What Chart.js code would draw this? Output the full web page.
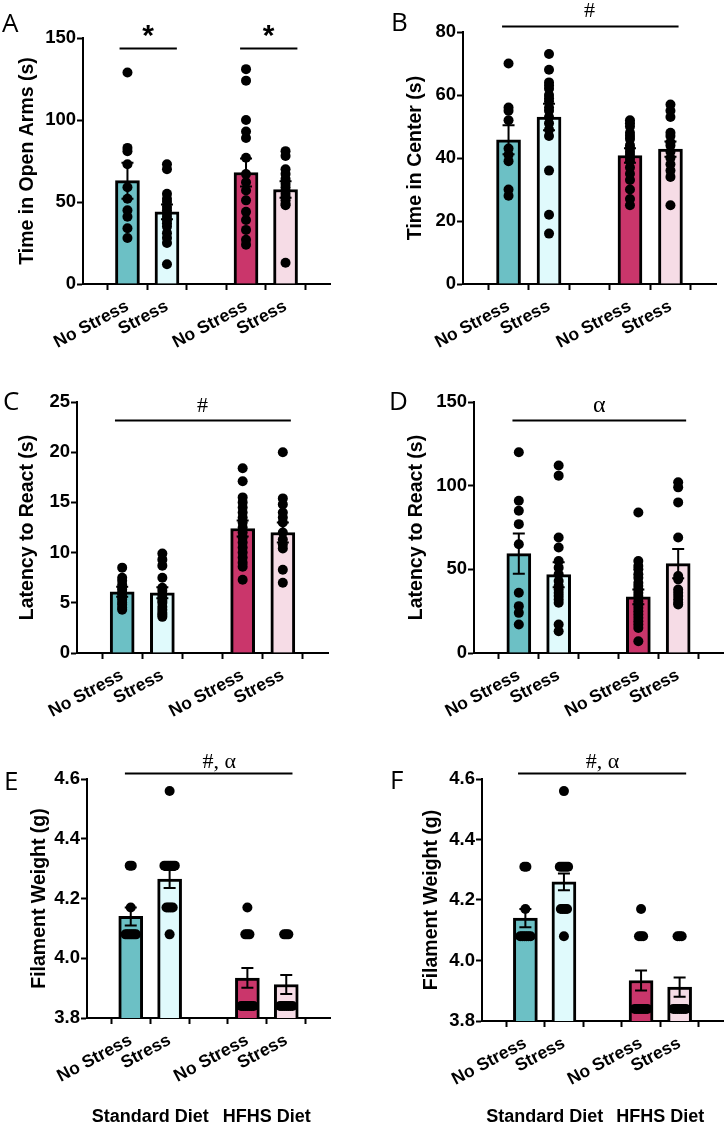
<!DOCTYPE html>
<html>
<head>
<meta charset="utf-8">
<script src="https://cdn.jsdelivr.net/npm/chart.js@4.4.1/dist/chart.umd.min.js"></script>
<style>
  html, body { margin: 0; padding: 0; background: #fff; }
  #fig { position: relative; width: 728px; height: 1125px; overflow: hidden; }
  #fig canvas { position: absolute; }
</style>
</head>
<body>
<div id="fig">
  <canvas id="cA" width="364" height="360" style="left:0;top:0"></canvas>
  <canvas id="cB" width="364" height="360" style="left:364px;top:0"></canvas>
  <canvas id="cC" width="364" height="370" style="left:0;top:360px"></canvas>
  <canvas id="cD" width="364" height="370" style="left:364px;top:360px"></canvas>
  <canvas id="cE" width="364" height="395" style="left:0;top:730px"></canvas>
  <canvas id="cF" width="364" height="395" style="left:364px;top:730px"></canvas>
</div>
<script>
// categories (slot 2 is the empty gap between diets)
const groups = ['No Stress', 'Stress', '', 'No Stress', 'Stress']
const barSlots = [0, 1, 3, 4]
const dietLabels = ['Standard Diet', 'HFHS Diet']
const barColors = ['#6cc0c5', '#e0fafc', '#ca366b', '#f6dce6']

// A: time in open arms
const aMeans = [63, 44, 68, 57.6]
const aSems = [11, 4.5, 8.5, 5]
const aPoints = [
  [129, 83, 81, 73, 59, 52, 45, 41, 34, 28],
  [73, 70, 55, 52, 50, 47, 45, 43, 41, 39, 37, 35, 31, 28, 25, 12],
  [131, 124, 100, 93, 89, 77, 67, 62, 57, 51, 44, 39, 33, 27, 24],
  [81, 78, 70, 67, 64, 61, 59, 57, 55, 53, 51, 49, 48, 13]
]
const aTicks = [0, 50, 100, 150]

// B: time in center
const bMeans = [45.8, 53, 40.8, 42.8]
const bSems = [4.6, 4.2, 2.3, 2.4]
const bPoints = [
  [70, 56, 55, 52, 43, 41, 39, 30, 28],
  [73, 68, 64, 63, 62, 60, 59, 58, 56, 55, 53, 51, 49, 47, 36, 22, 16],
  [52, 51, 50, 48, 47, 46, 44, 43, 42, 41, 40, 39, 37, 35, 33, 30, 27, 25],
  [57, 55, 53, 48, 47, 45, 44, 42, 40, 38, 36, 34, 25]
]
const bTicks = [0, 20, 40, 60, 80]

// C: latency to react
const cMeans = [6.1, 6.0, 12.4, 12.0]
const cSems = [0.5, 0.55, 0.8, 1.0]
const cPoints = [
  [8.5, 7.5, 7.2, 6.8, 6.5, 6.3, 6.0, 5.8, 5.5, 5.3, 5.0, 4.8, 4.5, 4.3],
  [9.9, 9.3, 8.7, 7.5, 6.5, 6.2, 5.8, 5.5, 5.2, 5.0, 4.6, 4.3, 4.0, 3.8, 3.6],
  [18.4, 17.1, 15.5, 15.0, 14.5, 14.0, 13.5, 13.0, 12.5, 12.0, 11.5, 11.0, 10.5, 10.0, 9.5, 9.0, 8.6, 7.3],
  [20.0, 15.4, 14.8, 14.0, 13.5, 13.0, 12.0, 11.3, 10.8, 10.4, 8.3, 7.0]
]
const cTicks = [0, 5, 10, 15, 20, 25]

// D: latency to react
const dMeans = [59.4, 46.8, 33.5, 53.4]
const dSems = [12, 7.5, 4.4, 8.7]
const dPoints = [
  [120, 91, 85, 77, 65, 36, 28, 24, 17],
  [112, 106, 69, 63, 55, 51, 47, 43, 40, 38, 36, 34, 32, 30, 17, 13],
  [84, 55, 52, 50, 47, 45, 42, 40, 38, 36, 34, 31, 29, 27, 25, 23, 21, 19, 17, 15, 7],
  [102, 99, 90, 69, 46, 44, 38, 36, 34, 32, 30, 29]
]
const dTicks = [0, 50, 100, 150]

// E: filament weight
const eMeans = [4.14, 4.265, 3.934, 3.912]
const eSems = [0.03, 0.03, 0.033, 0.032]
const ePoints = [
  [4.31, 4.31, 4.17, 4.08, 4.08, 4.08, 4.08, 4.08, 4.08],
  [4.56, 4.31, 4.31, 4.31, 4.31, 4.31, 4.31, 4.17, 4.17, 4.17, 4.17, 4.08],
  [4.17, 4.08, 4.08, 4.08, 3.84, 3.84, 3.84, 3.84, 3.84, 3.84, 3.84],
  [4.08, 4.08, 4.08, 3.84, 3.84, 3.84, 3.84, 3.84, 3.84, 3.84]
]
const eTicks = [3.8, 4.0, 4.2, 4.4, 4.6]

// F: filament weight
const fMeans = [4.14, 4.26, 3.934, 3.912]
const fSems = [0.03, 0.028, 0.033, 0.032]
const fPoints = [
  [4.31, 4.31, 4.17, 4.08, 4.08, 4.08, 4.08, 4.08, 4.08],
  [4.56, 4.31, 4.31, 4.31, 4.31, 4.31, 4.17, 4.17, 4.17, 4.17, 4.08],
  [4.17, 4.08, 4.08, 4.08, 3.84, 3.84, 3.84, 3.84, 3.84, 3.84, 3.84],
  [4.08, 4.08, 4.08, 3.84, 3.84, 3.84, 3.84, 3.84, 3.84, 3.84]
]
const fTicks = [3.8, 4.0, 4.2, 4.4, 4.6]

const SANS = "'Liberation Sans', Arial, sans-serif"
const SERIF = "'Liberation Serif', 'Times New Roman', serif"
Chart.defaults.font.family = SANS

// area = [left, right, top, bottom] of the plot inside each canvas
const panels = [
  { id: 'cA', letter: 'A', lx: 2, ly: 32, area: [83, 330, 38, 284], titleX: 28, title: 'Time in Open Arms (s)',
    means: aMeans, sems: aSems, points: aPoints, ticks: aTicks,
    marks: [
      { x0: -0.2, x1: 1.25, y: 144, text: '*', tx: 0.52, ty: 151, font: 'bold 30px ' + SANS },
      { x0: 2.85, x1: 4.3, y: 144, text: '*', tx: 3.57, ty: 151, font: 'bold 30px ' + SANS }
    ] },
  { id: 'cB', letter: 'B', lx: 27, ly: 31, area: [99, 352, 32, 284], titleX: 52, title: 'Time in Center (s)',
    means: bMeans, sems: bSems, points: bPoints, ticks: bTicks,
    marks: [{ x0: -0.16, x1: 4.2, y: 81.9, text: '#', tx: 2.0, ty: 86.5, font: '22px ' + SERIF }] },
  { id: 'cC', letter: 'C', lx: 3, ly: 50, area: [77, 328, 42, 293], titleX: 28, title: 'Latency to React (s)',
    means: cMeans, sems: cSems, points: cPoints, ticks: cTicks,
    marks: [{ x0: -0.18, x1: 4.2, y: 23.2, text: '#', tx: 2.0, ty: 24.6, font: '22px ' + SERIF }] },
  { id: 'cD', letter: 'D', lx: 25, ly: 50, area: [110, 362, 42, 293], titleX: 53, title: 'Latency to React (s)',
    means: dMeans, sems: dSems, points: dPoints, ticks: dTicks,
    marks: [{ x0: -0.16, x1: 4.2, y: 139.3, text: 'α', tx: 2.02, ty: 147.5, font: '24px ' + SERIF }] },
  { id: 'cE', letter: 'E', lx: 4, ly: 60, area: [87, 330, 49, 288], titleX: 40, title: 'Filament Weight (g)',
    means: eMeans, sems: eSems, points: ePoints, ticks: eTicks, diet: true,
    marks: [{ x0: -0.15, x1: 4.16, y: 4.62, text: '#, α', tx: 2.28, ty: 4.657, font: '22px ' + SERIF }] },
  { id: 'cF', letter: 'F', lx: 26, ly: 59, area: [118, 359, 49, 291], titleX: 68, title: 'Filament Weight (g)',
    means: fMeans, sems: fSems, points: fPoints, ticks: fTicks, diet: true,
    marks: [{ x0: -0.19, x1: 4.17, y: 4.62, text: '#, α', tx: 2.0, ty: 4.657, font: '22px ' + SERIF }] }
]

// spread identical values side by side, like a scatter dot plot
function dotPlot(vals, slot, step) {
  const counts = {}, seen = {}
  vals.forEach(v => { counts[v] = (counts[v] || 0) + 1 })
  return vals.map(v => {
    seen[v] = (seen[v] === undefined ? 0 : seen[v] + 1)
    return { x: slot + (seen[v] - (counts[v] - 1) / 2) * step, y: v }
  })
}

function build(p) {
  const canvas = document.getElementById(p.id)
  const W = canvas.width, H = canvas.height
  const [left, right, top, bottom] = p.area
  const unitPx = (right - left) / 5
  const titleSize = 19.5
  const padLeft = p.titleX - titleSize * 1.2 / 2
  const yMin = p.ticks[0], yMax = p.ticks[p.ticks.length - 1]
  const decimals = yMax < 10 && yMin > 0 ? 1 : 0

  const deco = {
    id: 'deco',
    afterDatasetsDraw(chart) {
      const { ctx, scales: { x, y } } = chart
      ctx.save()
      ctx.strokeStyle = '#000'
      ctx.fillStyle = '#000'
      ctx.lineWidth = 2
      // mean +/- SEM
      p.means.forEach((m, i) => {
        const px = x.getPixelForValue(barSlots[i])
        const t = y.getPixelForValue(m + p.sems[i])
        const b = y.getPixelForValue(m - p.sems[i])
        ctx.beginPath()
        ctx.moveTo(px, t); ctx.lineTo(px, b)
        ctx.moveTo(px - 6, t); ctx.lineTo(px + 6, t)
        ctx.moveTo(px - 6, b); ctx.lineTo(px + 6, b)
        ctx.stroke()
      })
      // significance bars
      p.marks.forEach(mk => {
        const yy = Math.round(y.getPixelForValue(mk.y)) + 0.5
        ctx.beginPath()
        ctx.moveTo(x.getPixelForValue(mk.x0), yy)
        ctx.lineTo(x.getPixelForValue(mk.x1), yy)
        ctx.stroke()
        ctx.font = mk.font
        ctx.textAlign = 'center'
        ctx.textBaseline = 'middle'
        ctx.fillText(mk.text, x.getPixelForValue(mk.tx), y.getPixelForValue(mk.ty))
      })
      // diet labels
      if (p.diet) {
        ctx.font = 'bold 18px ' + SANS
        ctx.textAlign = 'center'
        ctx.textBaseline = 'middle'
        ctx.fillText(dietLabels[0], x.getPixelForValue(0.5), 387)
        ctx.fillText(dietLabels[1], x.getPixelForValue(3.5), 387)
      }
      // panel letter
      ctx.font = "26px 'Open Sans', sans-serif"
      ctx.textAlign = 'left'
      ctx.textBaseline = 'alphabetic'
      ctx.fillText(p.letter, p.lx, p.ly)
      ctx.restore()
    }
  }

  const scatterSets = p.points.map((vals, i) => ({
    type: 'scatter',
    data: dotPlot(vals, barSlots[i], 2.6 / unitPx),
    pointRadius: 5,
    pointBackgroundColor: '#000',
    pointBorderWidth: 0,
    order: 1
  }))

  new Chart(canvas, {
    type: 'bar',
    data: {
      datasets: [
        {
          type: 'bar',
          data: p.means.map((m, i) => ({ x: barSlots[i], y: m })),
          backgroundColor: barColors,
          borderColor: '#000',
          borderWidth: 3,
          barThickness: 24,
          order: 2
        },
        ...scatterSets
      ]
    },
    options: {
      responsive: false,
      animation: false,
      events: [],
      layout: { padding: { left: padLeft, right: W - right, top: top, bottom: 0 } },
      plugins: { legend: { display: false }, tooltip: { enabled: false } },
      scales: {
        x: {
          type: 'linear',
          min: -0.5,
          max: 4.5,
          afterBuildTicks: s => { s.ticks = groups.map((g, i) => ({ value: i })) },
          afterFit: s => { s.height = H - bottom },
          ticks: {
            autoSkip: false,
            minRotation: 28,
            maxRotation: 28,
            padding: 6,
            color: '#000',
            font: { family: SANS, size: 17.5, weight: 'bold' },
            callback: v => groups[v] || ''
          },
          grid: { drawOnChartArea: false, drawTicks: true, tickLength: 6, tickWidth: 2, tickColor: '#000' },
          border: { display: true, color: '#000', width: 2 }
        },
        y: {
          min: yMin,
          max: yMax,
          afterBuildTicks: s => { s.ticks = p.ticks.map(v => ({ value: v })) },
          afterFit: s => { s.width = left - padLeft },
          ticks: {
            padding: 1,
            color: '#000',
            font: { family: SANS, size: 18.5, weight: 'bold' },
            callback: v => Number(v).toFixed(decimals)
          },
          grid: { drawOnChartArea: false, drawTicks: true, tickLength: 6, tickWidth: 2, tickColor: '#000' },
          border: { display: true, color: '#000', width: 2 },
          title: { display: true, text: p.title, color: '#000', font: { family: SANS, size: titleSize, weight: 'bold' }, padding: 0 }
        }
      }
    },
    plugins: [deco]
  })
}

panels.forEach(build)
</script>
</body>
</html>
